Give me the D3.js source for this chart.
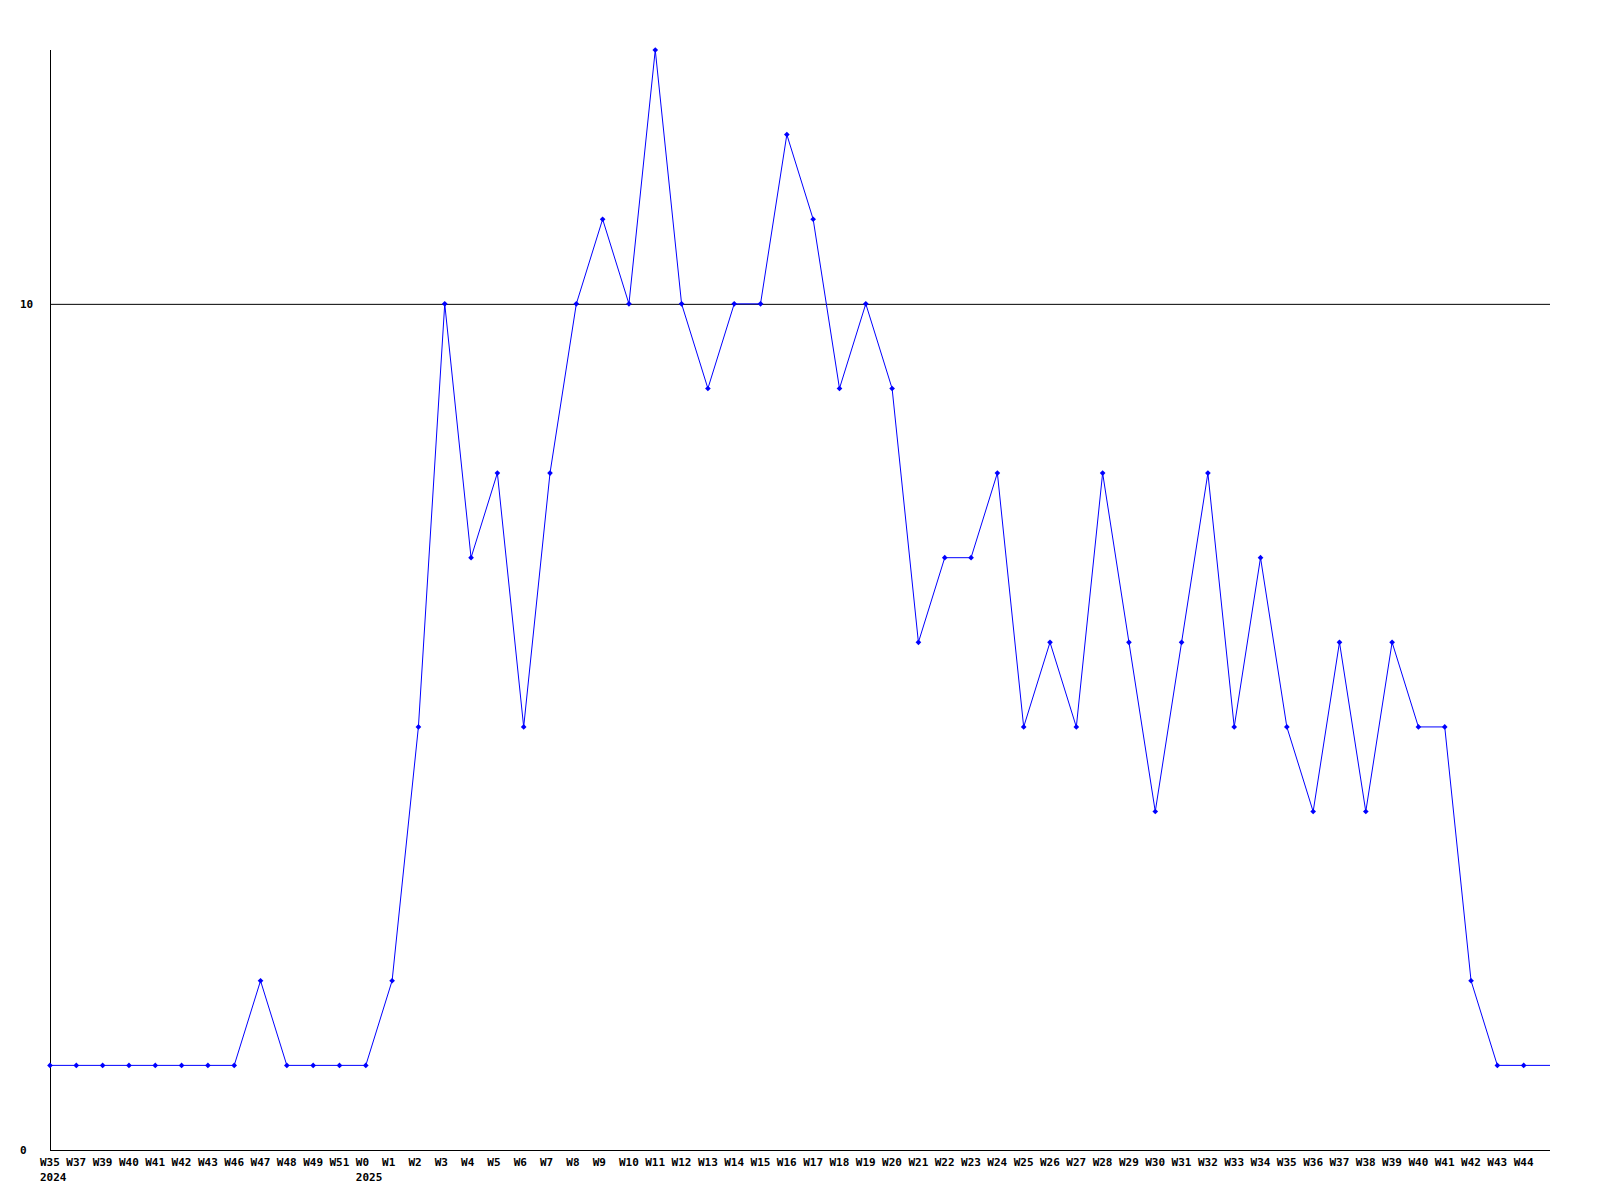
<!DOCTYPE html>
<html>
<head>
<meta charset="utf-8">
<script src="https://cdnjs.cloudflare.com/ajax/libs/d3/7.8.5/d3.min.js"></script>
<style>
    body { margin:0; padding:0; background:#fff; }
    svg text { font-family: "DejaVu Sans Mono", "Liberation Mono", monospace; font-weight:bold; font-size:11px; fill:#000; }
</style>
</head>
<body>
<svg width="1600" height="1200"></svg>
<script>
// week labels along the x axis
var weeks = ["W35","W37","W39","W40","W41","W42","W43","W46","W47","W48","W49","W51",
    "W0","W1","W2","W3","W4","W5","W6","W7","W8","W9","W10","W11","W12","W13","W14",
    "W15","W16","W17","W18","W19","W20","W21","W22","W23","W24","W25","W26","W27","W28",
    "W29","W30","W31","W32","W33","W34","W35","W36","W37","W38","W39","W40","W41","W42",
    "W43","W44"];
// year shown under the first week of each year
var years = [{idx: 0, label: "2024"}, {idx: 12, label: "2025"}];
var values = [1,1,1,1,1,1,1,1,2,1,1,1,
    1,2,5,10,7,8,5,8,10,11,10,13,10,9,10,
    10,12,11,9,10,9,6,7,7,8,5,6,5,8,
    6,4,6,8,5,7,5,4,6,4,6,5,5,2,
    1,1];
var yTicks = [0, 10];

var svg = d3.select("svg"),
    plotLeft = 50, plotRight = 1550, plotTop = 50, plotBottom = 1150;

var x = d3.scaleLinear().domain([0, weeks.length]).range([plotLeft, plotRight]);
var y = d3.scaleLinear().domain([0, 13]).range([plotBottom, plotTop]);

// gridline at 10
svg.selectAll(".grid").data(yTicks.filter(function(d) { return d > 0; }))
    .enter().append("line")
    .attr("x1", plotLeft).attr("x2", plotRight)
    .attr("y1", function(d) { return y(d) + 0.5; })
    .attr("y2", function(d) { return y(d) + 0.5; })
    .attr("stroke", "#000").attr("stroke-width", 1);

// axes
svg.append("line").attr("x1", plotLeft + 0.5).attr("x2", plotLeft + 0.5)
    .attr("y1", plotTop).attr("y2", plotBottom + 1).attr("stroke", "#000");
svg.append("line").attr("x1", plotLeft).attr("x2", plotRight)
    .attr("y1", plotBottom + 0.5).attr("y2", plotBottom + 0.5).attr("stroke", "#000");

svg.selectAll(".ylab").data(yTicks).enter().append("text")
    .attr("x", 20).attr("y", function(d) { return y(d) + 4; })
    .text(function(d) { return d; });

svg.selectAll(".xlab").data(weeks).enter().append("text")
    .attr("x", function(d, i) { return x(i) - 10; })
    .attr("y", 1166)
    .text(function(d) { return d; });

svg.selectAll(".yearlab").data(years).enter().append("text")
    .attr("x", function(d) { return x(d.idx) - 10; })
    .attr("y", 1181)
    .text(function(d) { return d.label; });

// line continues to the right edge at the last value
var pts = values.map(function(v, i) { return [x(i), y(v)]; });
pts.push([plotRight, y(values[values.length - 1])]);

svg.append("path")
    .attr("d", d3.line()(pts))
    .attr("fill", "none")
    .attr("stroke", "#0000ff")
    .attr("stroke-width", 1);

// small diamond markers
svg.selectAll(".pt").data(values).enter().append("path")
    .attr("transform", function(d, i) { return "translate(" + x(i) + "," + y(d) + ") rotate(45)"; })
    .attr("d", d3.symbol().type(d3.symbolSquare).size(16))
    .attr("fill", "#0000ff");
</script>
</body>
</html>
